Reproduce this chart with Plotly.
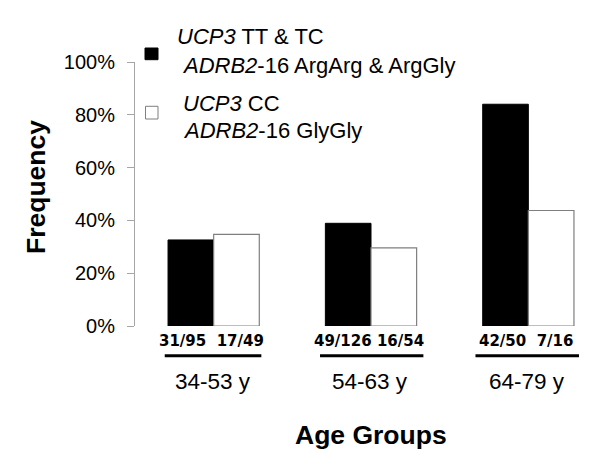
import plotly.graph_objects as go

# ---- data ----
age_groups = ["34-53 y", "54-63 y", "64-79 y"]
freq_risk = [0.326, 0.389, 0.840]      # UCP3 TT & TC / ADRB2-16 ArgArg & ArgGly
freq_norisk = [0.347, 0.296, 0.4375]   # UCP3 CC / ADRB2-16 GlyGly
count_labels = ["31/95\u00a0\u00a017/49", "49/126 16/54", "42/50\u00a0\u00a07/16"]
legend_risk = ["<i>UCP3</i> TT & TC", "<i>ADRB2</i>-16 ArgArg & ArgGly"]
legend_norisk = ["<i>UCP3</i> CC", "<i>ADRB2</i>-16 GlyGly"]

# ---- layout geometry ----
W, H = 600, 454
ML, MR, MT, MB = 127, 1, 54, 136
PW, PH = W - ML - MR, H - MT - MB


def px_x(px):
    return (px - ML) / PW


def px_y(py):
    return (H - MB - py) / PH


ARIAL = "Arial, Liberation Sans, sans-serif"
VERD = "Verdana, DejaVu Sans, sans-serif"
underline_half = [(0.311, 0.303), (0.324, 0.333), (0.336, 0.322)]

fig = go.Figure()
fig.add_trace(go.Bar(x=age_groups, y=freq_risk, name="risk",
                     marker=dict(color="black", line=dict(color="black", width=1))))
fig.add_trace(go.Bar(x=age_groups, y=freq_norisk, name="norisk",
                     marker=dict(color="white", line=dict(color="#7f7f7f", width=1.2))))

annotations = []
shapes = []
for i, (g, lab) in enumerate(zip(age_groups, count_labels)):
    annotations.append(dict(x=i, xref="x", y=px_y(333.3), yref="paper", text=f"<b>{lab}</b>",
                            showarrow=False, xanchor="center", yanchor="middle", xshift=-2,
                            font=dict(family=VERD, size=15, color="black")))
    annotations.append(dict(x=i, xref="x", y=px_y(373), yref="paper", text=g,
                            showarrow=False, xanchor="center", yanchor="middle", xshift=-1,
                            font=dict(family=ARIAL, size=22.5, color="black")))
    lo, hi = underline_half[i]
    shapes.append(dict(type="line", xref="x", yref="paper", x0=i - lo, x1=i + hi,
                       y0=px_y(347.7), y1=px_y(347.7), line=dict(color="black", width=3)))

# axis titles
annotations.append(dict(x=px_x(362.5), xref="paper", y=px_y(427), yref="paper",
                        text="<b>Age Groups</b>", showarrow=False, xanchor="center", yanchor="middle",
                        font=dict(family=ARIAL, size=26.5, color="black")))
annotations.append(dict(x=px_x(28), xref="paper", y=px_y(179), yref="paper",
                        text="<b>Frequency</b>", showarrow=False, xanchor="center", yanchor="middle",
                        textangle=-90, font=dict(family=ARIAL, size=26.5, color="black")))

# legend (drawn manually)
leg_lines = [(legend_risk[0], 166.7, 28.7), (legend_risk[1], 171.7, 57),
             (legend_norisk[0], 173.3, 95.7), (legend_norisk[1], 173.3, 122.5)]
for txt, lx, ly in leg_lines:
    annotations.append(dict(x=px_x(lx), xref="paper", y=px_y(ly), yref="paper", text=txt,
                            showarrow=False, xanchor="left", yanchor="middle",
                            font=dict(family=ARIAL, size=22, color="black")))
shapes.append(dict(type="rect", xref="paper", yref="paper", x0=px_x(137), x1=px_x(150),
                   y0=px_y(51.7), y1=px_y(40), fillcolor="black", line=dict(color="black", width=1)))
shapes.append(dict(type="rect", xref="paper", yref="paper", x0=px_x(137.5), x1=px_x(150),
                   y0=px_y(111), y1=px_y(98.3), fillcolor="white", line=dict(color="#7f7f7f", width=1)))

fig.update_layout(
    width=W, height=H,
    margin=dict(l=ML, r=MR, t=MT, b=MB, autoexpand=False),
    paper_bgcolor="white", plot_bgcolor="white",
    barmode="group", bargap=0.42, bargroupgap=0,
    showlegend=False,
    annotations=annotations, shapes=shapes,
    xaxis=dict(range=[-0.5, 2.5], showticklabels=False, showline=False, showgrid=False,
               zeroline=False, ticks="", automargin=False),
    yaxis=dict(range=[0, 1], tickformat=".0%", dtick=0.2, tick0=0, ticks="outside", ticklen=7,
               tickcolor="#a6a6a6", showline=True, linecolor="#a6a6a6", linewidth=1,
               showgrid=False, zeroline=False, ticklabelstandoff=8, automargin=False,
               tickfont=dict(family=ARIAL, size=20, color="black")),
)

fig.write_html("out.html")
